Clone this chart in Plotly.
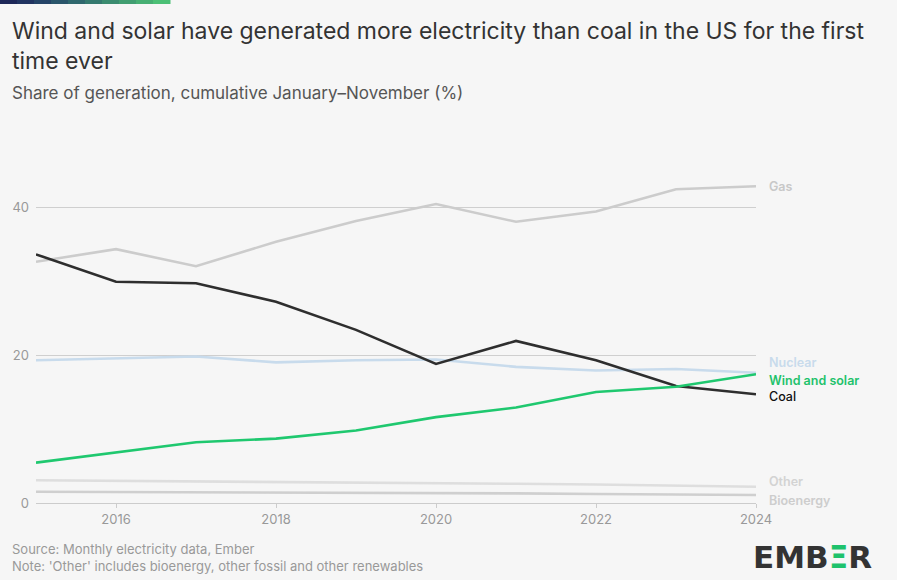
import plotly.graph_objects as go

years = [2015, 2016, 2017, 2018, 2019, 2020, 2021, 2022, 2023, 2024]
gas = [32.6, 34.3, 32.0, 35.3, 38.1, 40.4, 38.0, 39.4, 42.4, 42.8]
coal = [33.6, 29.9, 29.7, 27.2, 23.4, 18.8, 21.9, 19.3, 15.8, 14.7]
nuclear = [19.3, 19.6, 19.8, 19.0, 19.3, 19.4, 18.4, 17.9, 18.1, 17.6]
wind_solar = [5.45, 6.85, 8.2, 8.7, 9.8, 11.6, 12.9, 15.0, 15.7, 17.4]
other = [3.07, 3.0, 2.95, 2.9, 2.75, 2.7, 2.6, 2.5, 2.4, 2.2]
bioenergy = [1.53, 1.5, 1.48, 1.45, 1.4, 1.35, 1.3, 1.22, 1.15, 1.08]

series = [
    ("Other", other, "#dedede", "#d3d3d3", 5),
    ("Bioenergy", bioenergy, "#cfcfcf", "#cdcdcd", -5),
    ("Nuclear", nuclear, "#c8dbec", "#c8dbec", 10),
    ("Gas", gas, "#cccccc", "#c8c8c8", 0),
    ("Coal", coal, "#2e2e2e", "#111111", -2),
    ("Wind and solar", wind_solar, "#1fc86f", "#1fc26c", -6),
]

FONT = "Inter"
W, H = 897, 580
L, R, T, B = 36, 141, 133, 77
pw, ph = W - L - R, H - T - B

def px(x):
    return (x - L) / pw

def py(y):
    return (H - B - y) / ph

fig = go.Figure()
for name, vals, col, lcol, ys in series:
    fig.add_trace(go.Scatter(x=years, y=vals, mode="lines", name=name,
                             line=dict(color=col, width=2.6), hoverinfo="skip"))
    fig.add_annotation(x=1, xref="paper", y=vals[-1], yref="y", text=name,
                       showarrow=False, xanchor="left", yanchor="middle",
                       xshift=11, yshift=ys,
                       font=dict(family=FONT, size=12.5, color=lcol,
                                 weight=600 if name != "Coal" else 500))

fig.update_layout(
    width=W, height=H,
    margin=dict(l=L, r=R, t=T, b=B),
    paper_bgcolor="#f6f6f6", plot_bgcolor="#f6f6f6",
    showlegend=False,
    font=dict(family=FONT, color="#999999"),
    xaxis=dict(range=[2015, 2024], tickvals=[2016, 2018, 2020, 2022, 2024],
               showgrid=False, showline=True, linecolor="#cccccc", linewidth=1,
               ticks="outside", ticklen=4, tickcolor="#cccccc",
               tickfont=dict(size=13, color="#999999"), zeroline=False),
    yaxis=dict(range=[0, 50], tickvals=[0, 20, 40], showgrid=True,
               gridcolor="#cfcfcf", gridwidth=1, zeroline=False,
               showline=False, ticks="", ticklabelstandoff=6,
               tickfont=dict(size=13, color="#999999")),
)

# top gradient bar
grad = ["#1d2758", "#213461", "#254467", "#2a566b", "#2f686e", "#357a6f",
        "#3b8c70", "#419e71", "#47af73", "#4cc076"]
n = len(grad)
for i, c in enumerate(grad):
    fig.add_shape(type="rect", xref="paper", yref="paper",
                  x0=px(i * 170 / n), x1=px((i + 1) * 170 / n + 0.5),
                  y0=py(4), y1=py(0), fillcolor=c, line=dict(width=0), layer="above")

fig.add_annotation(xref="paper", yref="paper", x=px(10), y=py(15),
                   xanchor="left", yanchor="top", showarrow=False, align="left",
                   text="Wind and solar have generated more electricity than coal in the US for the first<br>time ever",
                   font=dict(family=FONT, size=23, color="#333333"))
fig.add_annotation(xref="paper", yref="paper", x=px(10), y=py(93),
                   xanchor="left", yanchor="middle", showarrow=False,
                   text="Share of generation, cumulative January–November (%)",
                   font=dict(family=FONT, size=17, color="#555555"))
fig.add_annotation(xref="paper", yref="paper", x=px(10), y=py(557),
                   xanchor="left", yanchor="middle", showarrow=False, align="left",
                   text="Source: Monthly electricity data, Ember<br>Note: 'Other' includes bioenergy, other fossil and other renewables",
                   font=dict(family=FONT, size=13, color="#999999"))
fig.add_annotation(xref="paper", yref="paper", x=px(874), y=py(557),
                   xanchor="right", yanchor="middle", showarrow=False,
                   text="EMB<span style='color:#1fc26c'>Ξ</span>R",
                   font=dict(family="DejaVu Sans", size=31, color="#333333", weight=700))

fig.write_html("out.html")
